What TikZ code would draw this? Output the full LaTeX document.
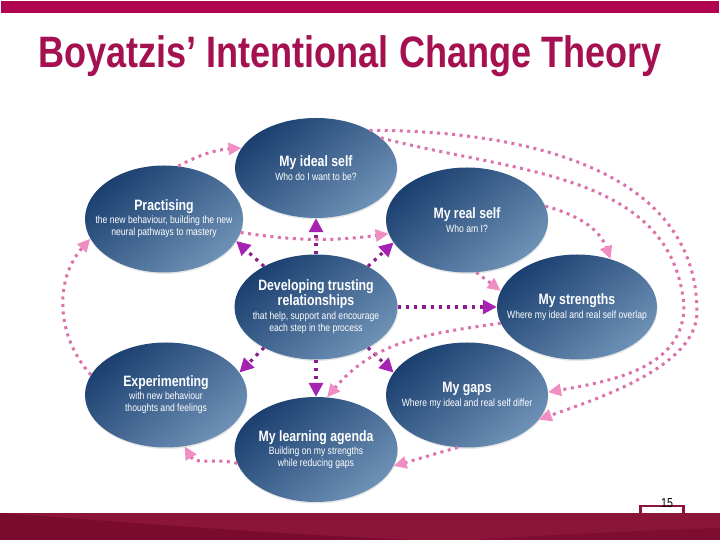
\documentclass[tikz,border=0pt]{standalone}
\usepackage{fontspec}
\setmainfont{Liberation Sans}[FakeStretch=0.82]
\usetikzlibrary{shapes.geometric,arrows.meta,shadows}
\definecolor{ellDark}{HTML}{1B4070}
\definecolor{ellLight}{HTML}{6E91B6}
\definecolor{pinkDot}{HTML}{DB72AC}
\definecolor{pinkHead}{HTML}{F08DC2}
\definecolor{purpDot}{HTML}{8A1E8C}
\definecolor{purpHead}{HTML}{A622B2}
\definecolor{titleRed}{HTML}{A51050}
\definecolor{barRed}{HTML}{B0044F}
\definecolor{bandRed}{HTML}{8A1538}
\definecolor{bandDark}{HTML}{7A0A2E}
\newcommand\ttlfont{\bfseries\fontsize{15}{17}\selectfont}
\newcommand\subfont{\fontsize{10.5}{12.5}\selectfont}
\begin{document}
\begin{tikzpicture}[x=1pt,y=1pt,
    stage/.style={ellipse, minimum width=162pt, minimum height=105pt, inner sep=0pt,
        top color=ellDark, bottom color=ellLight, shading angle=40,
        drop shadow={shadow xshift=0.5pt, shadow yshift=-1.5pt, opacity=0.2}},
    lbl/.style={text=white, align=center, inner sep=0pt},
    pinkarr/.style={draw=pinkDot, line width=3pt, dash pattern=on 3pt off 4.5pt,
        -{Triangle[length=13pt,width=12pt,color=pinkHead]}},
    purparr/.style={draw=purpDot, line width=3.2pt, dash pattern=on 3.2pt off 5pt,
        -{Triangle[length=14pt,width=14pt,color=purpHead]}}]
    \useasboundingbox (0,0) rectangle (720,540);

    % frame
    \fill[barRed] (1,527) rectangle (719,539);
    \node[anchor=base west, inner sep=0pt, text=titleRed,
        font=\bfseries\fontsize{44}{44}\selectfont] (title) at (38,472)
        {Boyatzis’ Intentional Change Theory};
    \fill[bandRed] (0,0) rectangle (720,27);
    \fill[bandDark] (0,27) .. controls (120,18) and (300,4) .. (420,0) -- (0,0) -- cycle;
    \fill[bandDark!70!bandRed] (720,12) .. controls (600,8) and (520,3) .. (470,0) -- (720,0) -- cycle;
    \fill[bandRed] (639,27) rectangle (685,35);
    \fill[white] (642,27) rectangle (682,32.5);
    \node[font=\fontsize{13}{13}\selectfont, inner sep=0pt] (page) at (667,37) {15};

    % stages
    \node[stage, minimum height=100pt] (ideal) at (316,372) {};
    \node[stage, minimum width=158pt, minimum height=107pt] (practising) at (164,321) {};
    \node[stage] (real) at (467,320) {};
    \node[stage, minimum width=160pt] (strengths) at (577,233) {};
    \node[stage, minimum width=163pt] (trust) at (316,233) {};
    \node[stage] (experimenting) at (166,145) {};
    \node[stage] (gaps) at (467,145) {};
    \node[stage, minimum width=163pt] (agenda) at (316,90.5) {};

    \node[lbl] (ideal-l) at (ideal) {\ttlfont My ideal self\\[2pt] \subfont Who do I want to be?};
    \node[lbl] (practising-l) at (practising)
        {\ttlfont Practising\\[1pt] \subfont the new behaviour, building the new\\ \subfont neural pathways to mastery};
    \node[lbl] (real-l) at (real) {\ttlfont My real self\\[2pt] \subfont Who am I?};
    \node[lbl] (strengths-l) at (strengths)
        {\ttlfont My strengths\\[2pt] \subfont Where my ideal and real self overlap};
    \node[lbl] (trust-l) at (trust)
        {\ttlfont Developing trusting\\ \ttlfont relationships\\[2pt] \subfont that help, support and encourage\\ \subfont each step in the process};
    \node[lbl] (experimenting-l) at (experimenting)
        {\ttlfont Experimenting\\[1pt] \subfont with new behaviour\\ \subfont thoughts and feelings};
    \node[lbl] (gaps-l) at (gaps) {\ttlfont My gaps\\[2pt] \subfont Where my ideal and real self differ};
    \node[lbl] (agenda-l) at (agenda)
        {\ttlfont My learning agenda\\[1pt] \subfont Building on my strengths\\ \subfont while reducing gaps};

    % support from the centre
    \draw[purparr] (trust.north) -- (ideal.south);
    \draw[purparr] (trust.142) -- (practising.-17);
    \draw[purparr] (trust.38) -- (real.197);
    \draw[purparr] (trust.east) -- (strengths.west);
    \draw[purparr] (trust.-38) -- (gaps.163);
    \draw[purparr] (trust.south) -- (agenda.north);
    \draw[purparr] (trust.218) -- (experimenting.17);

    % the cycle
    \coordinate (innerR) at (684,234);
    \coordinate (outerR) at (697,228);
    \draw[pinkarr] (practising.75) to[bend left=12] (ideal.165);
    \draw[pinkarr] (experimenting.165) to[bend left=42] (practising.195);
    \draw[pinkarr] (agenda.190) to[out=165,in=-60] (experimenting.-70);
    \draw[pinkarr] (gaps.-100) -- (agenda.-12);
    \draw[pinkarr] (strengths.192) to[out=188,in=50] (agenda.78);
    \draw[pinkarr] (real.-80) -- (strengths.168);
    \draw[pinkarr] (practising.-10) to[bend right=8] (real.190);
    \draw[pinkarr] (real.10) to[out=-15,in=110] (strengths.55);
    \draw[pinkarr] (ideal.25) to[out=-15,in=95] (innerR) to[out=-90,in=10] (gaps.2);
    \draw[pinkarr] (ideal.35) to[out=0,in=90] (outerR) to[out=-90,in=20,looseness=0.75] (gaps.-19);
\end{tikzpicture}
\end{document}
